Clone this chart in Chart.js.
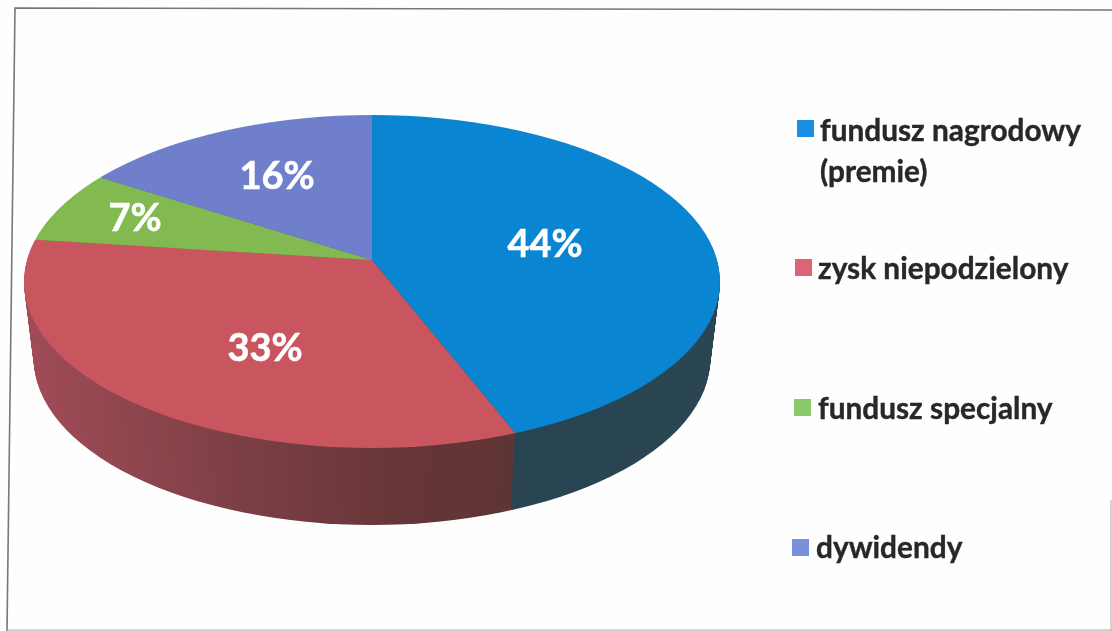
<!DOCTYPE html>
<html>
<head>
<meta charset="utf-8">
<title>Podział zysku</title>
<script src="https://cdn.jsdelivr.net/npm/chart.js@4"></script>
<style>
  html, body { margin: 0; padding: 0; background: #fefefe; overflow: hidden; }
  #wrap { position: relative; width: 1112px; height: 631px; filter: blur(0.5px); }
  .key { position: absolute; font: 700 29.8px/41px Lato, sans-serif; color: #26282b; white-space: pre; -webkit-text-stroke: 0.4px #26282b; }
  .key i { position: absolute; width: 17px; height: 17px; }
</style>
</head>
<body>
<div id="wrap"><canvas id="pie" width="1112" height="631"></canvas></div>
<script>
// Data
const categories = ['fundusz nagrodowy\n(premie)', 'zysk niepodzielony', 'fundusz specjalny', 'dywidendy'];
const shares = [44, 33, 7, 16];
const pctLabels = ['44%', '33%', '7%', '16%'];

// Colours
const topColors = ['#0a85d2', '#c9565f', '#82b950', '#6f7fcb'];
const keyColors = ['#1a8fe3', '#dc6478', '#88c96a', '#7a90da'];

// Layout: spokes meet at apex y, the rim ellipse sits lower (perspective)
const cx = 372, cy = 260, rx = 348;
const rimCy = 281.5, ry = 166.5, depth = 77, sideShrink = 0.028, over = 1.2;
const pctAnchors = [[545, 245], [265, 349], [135, 219], [277, 177]];
const keyLeft = [820, 818, 818, 816];
const keyTop = [109, 247, 387, 526];
const swatchLeft = [-23, -23, -24.5, -24.5];
const swatchTop = [11, 12, 12, 13];

const ctx = document.getElementById('pie').getContext('2d');

// side colours run along x, so the gradients are made once in page pixels
function sideGradient(stops) {
    const g = ctx.createLinearGradient(24, 0, 720, 0);
    stops.forEach(s => g.addColorStop(s[0], s[1]));
    return g;
}
const sideFills = [
    sideGradient([[0, '#24404f'], [1, '#2a4653']]),
    sideGradient([[0, '#a04c58'], [0.3, '#7d3f45'], [0.55, '#663538'], [0.75, '#5c3434'], [1, '#5c3434']]),
    sideGradient([[0, '#5e8a3a'], [1, '#5e8a3a']]),
    sideGradient([[0, '#4f5b92'], [1, '#4f5b92']])
];

// one pie layer: arcs squashed about the apex, cut to the rim ellipse
function withLayer(c, dy, sx, paint) {
    c.save();
    c.beginPath();
    c.ellipse(cx, rimCy + dy, rx * sx, ry, 0, 0, Math.PI * 2);
    c.clip();
    c.translate(cx, cy + dy);
    c.scale(sx, ry / rx);
    c.translate(-cx, -cy);
    paint();
    c.restore();
}

const tiltPlugin = {
    id: 'tilt',
    beforeDraw(chart) {
        const c = chart.ctx;
        c.save();
        c.strokeStyle = '#777';
        c.lineWidth = 1.6;
        c.beginPath();
        c.moveTo(1112, 10); c.lineTo(15, 8); c.lineTo(7, 631);
        c.stroke();
        c.strokeStyle = '#aaa';
        c.lineWidth = 1;
        c.beginPath();
        c.moveTo(1111, 500); c.lineTo(1111, 631);
        c.moveTo(7, 630); c.lineTo(1112, 630);
        c.stroke();
        c.restore();
    },
    beforeDatasetDraw(chart) {
        const c = chart.ctx;
        const arcs = chart.getDatasetMeta(0).data;
        for (let k = depth; k >= 1; k--) {
            const sx = 1 - sideShrink * k / depth;
            withLayer(c, k, sx, () => {
                arcs.forEach((arc, i) => {
                    const keep = arc.options;
                    arc.options = Object.assign({}, keep, { backgroundColor: sideFills[i], borderWidth: 0 });
                    arc.draw(c);
                    arc.options = keep;
                });
            });
        }
        withLayer(c, 0, 1, () => arcs.forEach(arc => arc.draw(c)));
        return false;
    },
    afterDatasetsDraw(chart) {
        const c = chart.ctx;
        c.save();
        c.font = '700 38px Lato, sans-serif';
        c.fillStyle = '#ffffff';
        c.strokeStyle = '#ffffff';
        c.lineWidth = 0.6;
        c.textAlign = 'center';
        c.textBaseline = 'middle';
        pctLabels.forEach((t, i) => {
            c.fillText(t, pctAnchors[i][0], pctAnchors[i][1]);
            c.strokeText(t, pctAnchors[i][0], pctAnchors[i][1]);
        });
        c.restore();
    }
};

new Chart(ctx, {
    type: 'pie',
    data: {
        labels: categories,
        datasets: [{ data: shares, backgroundColor: topColors, borderWidth: 0 }]
    },
    options: {
        responsive: false,
        animation: false,
        radius: rx * over,
        layout: { padding: { left: 0, top: 0, right: 1112 - 2 * cx, bottom: 631 - 2 * cy } },
        plugins: { legend: { display: false }, tooltip: { enabled: false } }
    },
    plugins: [tiltPlugin]
});

// Legend
const wrap = document.getElementById('wrap');
categories.forEach((name, i) => {
    const el = document.createElement('div');
    el.className = 'key';
    el.style.left = keyLeft[i] + 'px';
    el.style.top = keyTop[i] + 'px';
    el.textContent = name;
    const sw = document.createElement('i');
    sw.style.left = swatchLeft[i] + 'px';
    sw.style.top = swatchTop[i] + 'px';
    sw.style.background = keyColors[i];
    el.appendChild(sw);
    wrap.appendChild(el);
});
</script>
</body>
</html>
